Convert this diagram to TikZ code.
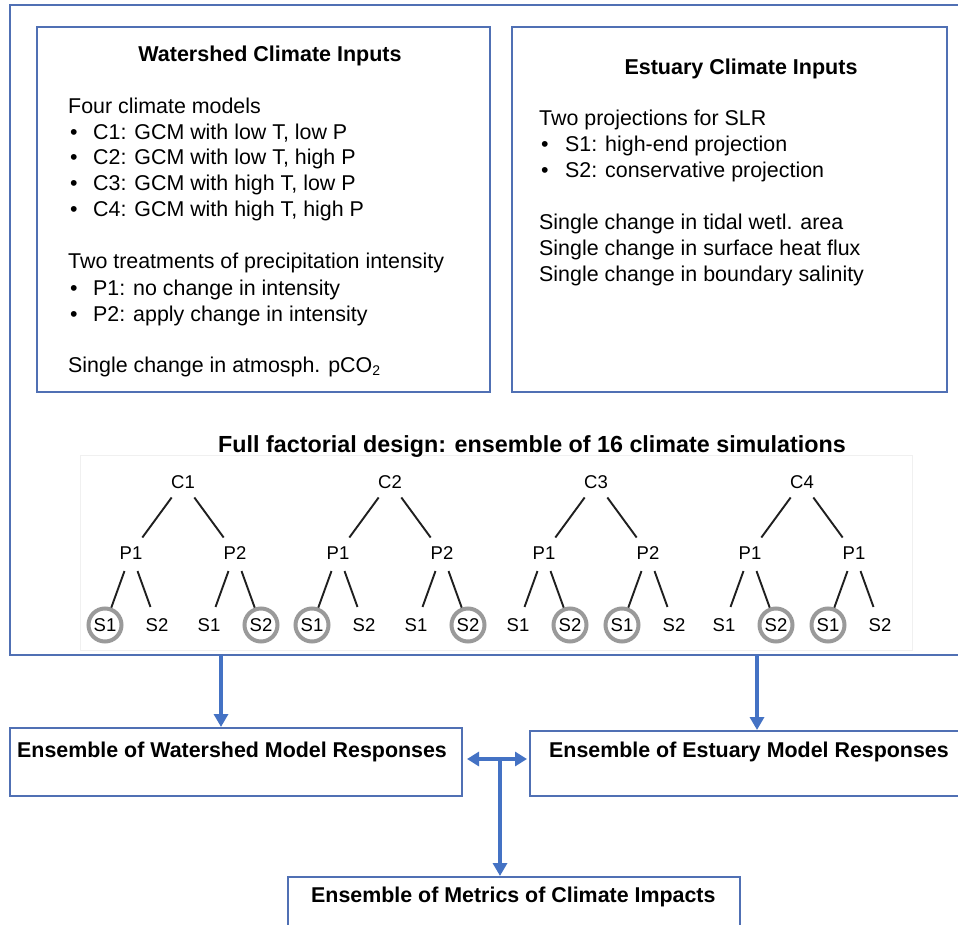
\documentclass[tikz,border=0pt]{standalone}
\usepackage{fontspec}
\setmainfont{Liberation Sans}
\usetikzlibrary{arrows.meta}
\definecolor{boxc}{HTML}{5070B4}
\definecolor{arrc}{HTML}{4472C4}
\definecolor{ringc}{HTML}{9A9A9A}
\begin{document}
\begin{tikzpicture}[x=1pt,y=-1pt,
  box/.style={draw=boxc, line width=2pt, inner sep=0pt},
  body/.style={anchor=base west, inner sep=0pt, font=\fontsize{21.4}{25.7}\selectfont},
  ttl/.style={anchor=base, inner sep=0pt, font=\bfseries\fontsize{21.5}{26}\selectfont},
  resp/.style={anchor=base west, inner sep=0pt, font=\bfseries\fontsize{21.4}{26}\selectfont},
  tn/.style={circle, inner sep=0pt, minimum size=38pt, font=\fontsize{18.5}{20}\selectfont},
  hit/.style={tn, draw=ringc, line width=4pt, minimum size=33pt},
  tline/.style={line width=1.9pt, black!88},
  arr/.style={draw=arrc, line width=3.8pt, -{Triangle[length=13pt,width=14pt]}},
  darr/.style={draw=arrc, line width=3.8pt, {Triangle[length=12pt,width=14pt]}-{Triangle[length=12pt,width=14pt]}}
]
\useasboundingbox (0,0) rectangle (958,925);
\fill[white] (0,0) rectangle (958,925);

% boxes
\node[box, minimum width=960pt, minimum height=650pt] (outer) at (490,330) {};
\node[box, minimum width=453pt, minimum height=365pt] (wbox) at (263.5,209.5) {};
\node[box, minimum width=435pt, minimum height=365pt] (ebox) at (729.5,209.5) {};
\node[box, minimum width=452pt, minimum height=68pt] (wresp) at (236,762) {};
\node[box, minimum width=440pt, minimum height=65pt] (eresp) at (750,763.5) {};
\node[box, minimum width=452pt, minimum height=63pt] (metrics) at (514,908.5) {};
\node[draw=black!6, line width=0.8pt, minimum width=832pt, minimum height=195pt, inner sep=0pt] (frame) at (496,552.5) {};

% watershed text
\node[ttl] (wt) at (270,62) {Watershed Climate Inputs};
\node[body] (w1) at (68,114) {Four climate models};
\node[body] (wb1) at (70,140) {•};
\node[body] (w2) at (93,140) {C1: GCM with low T, low P};
\node[body] (wb2) at (70,165) {•};
\node[body] (w3) at (93,165) {C2: GCM with low T, high P};
\node[body] (wb3) at (70,191) {•};
\node[body] (w4) at (93,191) {C3: GCM with high T, low P};
\node[body] (wb4) at (70,217) {•};
\node[body] (w5) at (93,217) {C4: GCM with high T, high P};
\node[body] (w6) at (68,269) {Two treatments of precipitation intensity};
\node[body] (wb6) at (70,295) {•};
\node[body] (w7) at (93,295) {P1: no change in intensity};
\node[body] (wb7) at (70,321) {•};
\node[body] (w8) at (93,321) {P2: apply change in intensity};
\node[body] (w9) at (68,372) {Single change in atmosph. pCO\raisebox{-0.3ex}{\fontsize{14}{14}\selectfont 2}};

% estuary text
\node[ttl] (et) at (741,75) {Estuary Climate Inputs};
\node[body] (e1) at (539,126) {Two projections for SLR};
\node[body] (eb1) at (541,152) {•};
\node[body] (e2) at (565,152) {S1: high-end projection};
\node[body] (eb2) at (541,178) {•};
\node[body] (e3) at (565,178) {S2: conservative projection};
\node[body] (e4) at (539,230) {Single change in tidal wetl. area};
\node[body] (e5) at (539,256) {Single change in surface heat flux};
\node[body] (e6) at (539,281) {Single change in boundary salinity};

% factorial title
\node[ttl, font=\bfseries\fontsize{23.3}{27}\selectfont] (ft) at (532,452) {Full factorial design: ensemble of 16 climate simulations};

% trees
\foreach \g/\x/\plab/\sa/\sb/\sc/\sd in {1/183/P2/hit/tn/tn/hit, 2/390/P2/hit/tn/tn/hit, 3/596/P2/tn/hit/hit/tn, 4/802/P1/tn/hit/hit/tn}{
  \node[tn] (c\g) at (\x,482) {C\g};
  \node[tn] (p\g1) at (\x-52,553) {P1};
  \node[tn] (p\g2) at (\x+52,553) {\plab};
  \node[\sa] (s\g1) at (\x-78,625) {S1};
  \node[\sb] (s\g2) at (\x-26,625) {S2};
  \node[\sc] (s\g3) at (\x+26,625) {S1};
  \node[\sd] (s\g4) at (\x+78,625) {S2};
  \draw[tline] (c\g) -- (p\g1);
  \draw[tline] (c\g) -- (p\g2);
  \draw[tline] (p\g1) -- (s\g1);
  \draw[tline] (p\g1) -- (s\g2);
  \draw[tline] (p\g2) -- (s\g3);
  \draw[tline] (p\g2) -- (s\g4);
}

% response texts
\node[resp] (wr) at (17,757) {Ensemble of Watershed Model Responses};
\node[resp] (er) at (549,757) {Ensemble of Estuary Model Responses};
\node[resp] (mr) at (311,902) {Ensemble of Metrics of Climate Impacts};

% arrows
\coordinate (a1) at (221,655);
\coordinate (a2) at (757,655);
\coordinate (hh) at (0,759);
\coordinate (vv) at (500,761);
\draw[arr] (a1) -- (a1 |- wresp.north);
\draw[arr] (a2) -- (a2 |- eresp.north);
\draw[darr, shorten <=4pt, shorten >=2pt] (wresp.east |- hh) -- (eresp.west |- hh);
\draw[arr] (vv) -- (vv |- metrics.north);
\end{tikzpicture}
\end{document}
